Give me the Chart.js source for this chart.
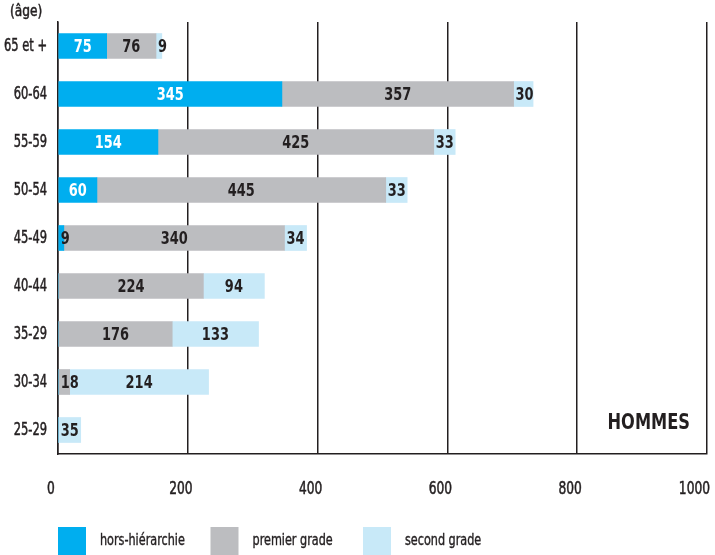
<!DOCTYPE html>
<html lang="fr">
<head>
<meta charset="utf-8">
<title>Répartition par âge et par grade — hommes</title>
<script src="https://cdn.jsdelivr.net/npm/chart.js@4/dist/chart.umd.min.js"></script>
<style>
  html, body { margin: 0; padding: 0; background: #ffffff; }
  #wrap { width: 715px; height: 555px; position: relative; }
</style>
</head>
<body>
<div id="wrap"><canvas id="chart" width="715" height="555"></canvas></div>
<script>
// Age groups (top to bottom) and head counts per grade
const ages = ['65 et +', '60-64', '55-59', '50-54', '45-49', '40-44', '35-29', '30-34', '25-29'];
const horsHierarchie = [75, 345, 154, 60, 9, 0, 0, 0, 0];
const premierGrade   = [76, 357, 425, 445, 340, 224, 176, 18, 0];
const secondGrade    = [9, 30, 33, 33, 34, 94, 133, 214, 35];
const xTicks = [0, 200, 400, 600, 800, 1000];
const seriesNames = ['hors-hiérarchie', 'premier grade', 'second grade'];

const INK = '#231F20';
const FONT = "'DejaVu Sans Condensed', 'Liberation Sans Narrow', 'Roboto', sans-serif";
const COLORS = ['#00AEEF', '#BCBDC0', '#C8E9F8'];

// Draw text squeezed horizontally to get a narrow, condensed look;
// an optional thin outline gives a medium weight
function narrowText(ctx, text, x, y, align, sx, stroke) {
  ctx.save();
  ctx.translate(x, y);
  ctx.scale(sx, 1);
  ctx.textAlign = align;
  ctx.fillText(text, 0, 0);
  if (stroke) {
    ctx.strokeStyle = ctx.fillStyle;
    ctx.lineWidth = stroke;
    ctx.strokeText(text, 0, 0);
  }
  ctx.restore();
}

// Category and value labels of both axes, placed from the chart's scales
const axisLabels = {
  id: 'axisLabels',
  afterDraw(chart) {
    const ctx = chart.ctx;
    const area = chart.chartArea;
    const xs = chart.scales.x;
    const ys = chart.scales.y;
    ctx.save();
    ctx.fillStyle = INK;
    ctx.textBaseline = 'middle';

    ctx.font = '17px ' + FONT;
    chart.data.labels.forEach((lab, i) => {
      narrowText(ctx, lab, area.left - 11, ys.getPixelForValue(i) + 1, 'right', 0.75, 0.5);
    });

    ctx.font = '17px ' + FONT;
    const SX = 0.8;
    xs.ticks.forEach(t => {
      const txt = String(t.value);
      const half = ctx.measureText(txt).width * SX / 2;
      let cx = xs.getPixelForValue(t.value) - 7;
      cx = Math.min(cx, chart.width - 5 - half);
      narrowText(ctx, txt, cx, 490, 'center', SX, 0.5);
    });
    ctx.restore();
  }
};

// Value written inside (or just after) each bar segment
const segmentLabels = {
  id: 'segmentLabels',
  afterDatasetsDraw(chart) {
    const ctx = chart.ctx;
    const SX = 0.8;
    ctx.save();
    ctx.font = 'bold 18px ' + FONT;
    ctx.textBaseline = 'middle';
    chart.data.datasets.forEach((ds, di) => {
      const meta = chart.getDatasetMeta(di);
      meta.data.forEach((bar, i) => {
        const v = ds.data[i];
        if (!v) return;
        const txt = String(v);
        const left = Math.min(bar.base, bar.x);
        const w = Math.abs(bar.x - bar.base);
        const tw = ctx.measureText(txt).width * SX;
        if (tw + 8 <= w) {
          ctx.fillStyle = di === 0 ? '#ffffff' : INK;
          narrowText(ctx, txt, left + w / 2, bar.y + 1, 'center', SX);
        } else {
          ctx.fillStyle = INK;
          narrowText(ctx, txt, left + 2, bar.y + 1, 'left', SX);
        }
      });
    });
    ctx.restore();
  }
};

// Axis caption, panel title and the legend row underneath
const decorations = {
  id: 'decorations',
  afterDraw(chart) {
    const ctx = chart.ctx;
    const area = chart.chartArea;
    ctx.save();
    ctx.fillStyle = INK;
    ctx.textBaseline = 'middle';

    ctx.font = '16px ' + FONT;
    narrowText(ctx, '(âge)', 10, 12, 'left', 0.85, 0.5);

    ctx.font = 'bold 22px ' + FONT;
    narrowText(ctx, 'HOMMES', area.right - 17, 423, 'right', 0.82);

    ctx.font = '16px ' + FONT;
    chart.data.datasets.forEach((ds, i) => {
      const x = area.left + i * 152.5;
      const y = 527;
      ctx.fillStyle = ds.backgroundColor;
      ctx.fillRect(x, y, 28, 28);
      ctx.fillStyle = INK;
      narrowText(ctx, ds.label, x + 42, y + 14, 'left', 0.78, 0.4);
    });
    ctx.restore();
  }
};

new Chart(document.getElementById('chart'), {
  type: 'bar',
  data: {
    labels: ages,
    datasets: [
      { label: seriesNames[0], data: horsHierarchie, backgroundColor: COLORS[0] },
      { label: seriesNames[1], data: premierGrade, backgroundColor: COLORS[1] },
      { label: seriesNames[2], data: secondGrade, backgroundColor: COLORS[2] }
    ]
  },
  options: {
    indexAxis: 'y',
    responsive: false,
    animation: false,
    barThickness: 25,
    layout: { padding: { top: 22, right: 8, left: 0, bottom: 0 } },
    plugins: {
      legend: { display: false },
      tooltip: { enabled: false },
      title: { display: false }
    },
    scales: {
      x: {
        stacked: true,
        min: 0,
        max: 1000,
        afterBuildTicks(scale) { scale.ticks = xTicks.map(v => ({ value: v })); },
        afterFit(scale) {
          scale.height = 101;
          scale.paddingLeft = 0;
          scale.paddingRight = 0;
        },
        grid: { color: INK, lineWidth: 1.5, drawTicks: false },
        border: { color: INK, width: 1.5 },
        ticks: { display: false }
      },
      y: {
        stacked: true,
        afterFit(scale) { scale.width = 58; },
        grid: { display: false, drawTicks: false },
        border: { display: true, color: INK, width: 1.5 },
        ticks: { display: false }
      }
    }
  },
  plugins: [segmentLabels, axisLabels, decorations]
});
</script>
</body>
</html>
